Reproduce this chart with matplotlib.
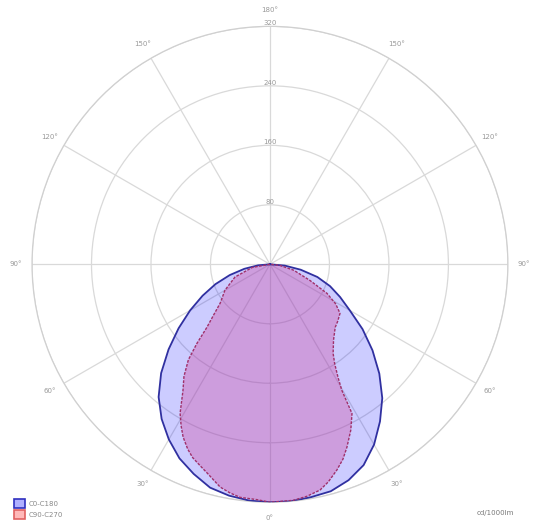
import numpy as np
import matplotlib.pyplot as plt
from matplotlib.patches import Patch

# C0-C180 plane (gamma from nadir, + to the right), cd/1000lm
c0_angles = [-90, -85, -80, -75, -70, -65, -60, -55, -50, -45, -40, -35,
             -30, -25, -20, -15, -10, -5, 0, 5, 10, 15, 20, 25, 30, 35,
             40, 45, 50, 55, 60, 65, 70, 75, 80, 85, 90]
c0_values = [0, 16, 35, 56, 78, 100, 124, 150, 178, 207, 233, 254,
             272, 288, 300, 311, 316, 319, 320, 320, 318, 316, 309, 298, 280, 258,
             235, 208, 180, 152, 124, 104, 86, 66, 42, 20, 0]

# C90-C270 plane
c90_angles = [-90, -80, -70, -60, -52, -48, -45, -42.7, -40.5, -37.5, -34.6,
              -31.1, -28.8, -26.7, -24, -21.8, -19, -16.8, -12.6, -10, -7.3,
              -3.2, 0, 5.6, 9, 12.5, 15, 18, 20.5, 22.8, 26, 28.8, 29.7, 31,
              33, 35.3, 40, 46, 50, 55, 59, 63, 68, 76, 84, 90]
c90_values = [0, 24, 50, 70, 85, 102, 120, 145, 169, 190, 206,
              234, 248, 260, 272, 280, 287, 293, 307, 312, 316,
              317, 320, 319, 316, 311, 303, 291, 280, 267, 248, 229, 195, 178,
              160, 147, 133, 122, 119, 115, 103, 86, 58, 33, 13, 0]

ring_values = [80, 160, 240, 320]
ring_labels = ["80", "160", "240", "320"]
angle_ticks = [0, 30, 60, 90, 120, 150, 180, 210, 240, 270, 300, 330]
angle_labels = ["0°", "30°", "60°", "90°", "120°", "150°", "180°",
                "150°", "120°", "90°", "60°", "30°"]
legend_names = ["C0-C180", "C90-C270"]

fig = plt.figure(figsize=(5.33, 5.27), dpi=100)
ax = fig.add_axes([0.060, 0.047, 0.893, 0.903], projection="polar")
ax.set_theta_zero_location("S")
ax.set_theta_direction(1)

t0 = np.radians(c0_angles)
ax.fill(t0, c0_values, color=(0.0, 0.0, 1.0), alpha=0.2, lw=0, zorder=2)
ax.plot(t0, c0_values, color="#3030a0", lw=1.3, zorder=4)

t90 = np.radians(c90_angles)
ax.fill(t90, c90_values, color=(0.82, 0.28, 0.62), alpha=0.35, lw=0, zorder=3)
ax.plot(t90, c90_values, color="#a0306a", lw=1.0, ls=(0, (2, 1)), zorder=5)

ax.set_ylim(0, ring_values[-1])
ax.set_rgrids(ring_values, ring_labels, angle=180, fontsize=5, color="#999999")
for lab in ax.get_yticklabels():
    lab.set_ha("center")
ax.set_thetagrids(angle_ticks, angle_labels, fontsize=5, color="#999999")
ax.tick_params(axis="x", pad=1)
ax.grid(color="#d9d9d9", lw=0.9)
ax.spines["polar"].set_color("#d0d0d0")
ax.spines["polar"].set_linewidth(0.9)

handles = [Patch(facecolor="#b0b0ff", edgecolor="#3030c0", lw=1.2),
           Patch(facecolor="#ffb8b8", edgecolor="#e06060", lw=1.2)]
fig.legend(handles, legend_names, loc="lower left", bbox_to_anchor=(0.015, 0.005),
           fontsize=5, frameon=False, handlelength=1.6, handleheight=1.6,
           handletextpad=0.5, labelcolor="#888888", borderpad=0.3,
           labelspacing=0.3)
fig.text(0.965, 0.022, "cd/1000lm", fontsize=5, color="#777777", ha="right")

fig.savefig("out.png", dpi=100)
